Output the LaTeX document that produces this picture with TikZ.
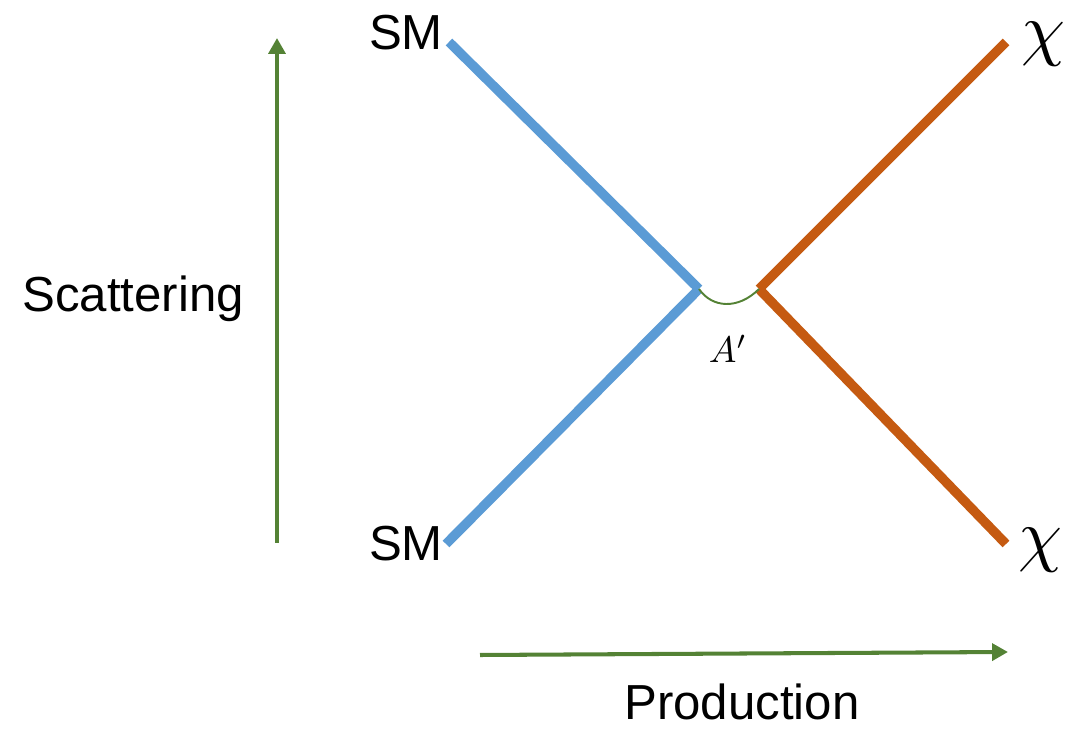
\documentclass[tikz,border=0pt]{standalone}
\usepackage{fontspec}
\setmainfont{Liberation Sans}
\usetikzlibrary{arrows.meta}
\definecolor{smblue}{HTML}{5B9BD5}
\definecolor{dmorange}{HTML}{C55A11}
\definecolor{axgreen}{HTML}{548235}
\tikzset{
  smline/.style={line width=5.4pt,smblue},
  dmline/.style={line width=5.4pt,dmorange},
  axarrow/.style={line width=2.3pt,axgreen,-{Triangle[length=9pt,width=9.5pt]}},
  lbl/.style={inner sep=0pt,font=\fontsize{28}{32}\selectfont}
}
\begin{document}
\begin{tikzpicture}[x=0.02cm,y=-0.02cm]
        \useasboundingbox (0,0) rectangle (1066,732);
        \coordinate (smin1) at (449,42);
        \coordinate (smin2) at (446,544);
        \coordinate (vleft) at (699,289);
        \coordinate (vright) at (759,289);
        \coordinate (chiout1) at (1006,42);
        \coordinate (chiout2) at (1006,544);
        \draw[smline] (smin1) -- (vleft);
        \draw[smline] (smin2) -- (vleft);
        \draw[dmline] (vright) -- (chiout1);
        \draw[dmline] (vright) -- (chiout2);
        \draw[axgreen,line width=1.1pt] (vleft) .. controls (712,308) and (738,310) .. (vright);
        \node[lbl] at (406,33) (smtop) {SM};
        \node[lbl] at (406,544) (smbot) {SM};
        \node[inner sep=0pt,scale=4] at (1043,44) (chitop) {$\chi$};
        \node[inner sep=0pt,scale=4] at (1040,550) (chibot) {$\chi$};
        \node[inner sep=0pt,scale=2.1] at (728,349) (aprime) {$A'$};
        \node[lbl,anchor=base] at (133,312) (scat) {Scattering};
        \node[lbl,anchor=base] at (742,720) (prod) {Production};
        \coordinate (scatfrom) at (277,543);
        \coordinate (scatto) at (277,38);
        \coordinate (prodfrom) at (480,655);
        \coordinate (prodto) at (1008,652);
        \draw[axarrow] (scatfrom) -- (scatto);
        \draw[axarrow] (prodfrom) -- (prodto);
    \end{tikzpicture}
\end{document}
